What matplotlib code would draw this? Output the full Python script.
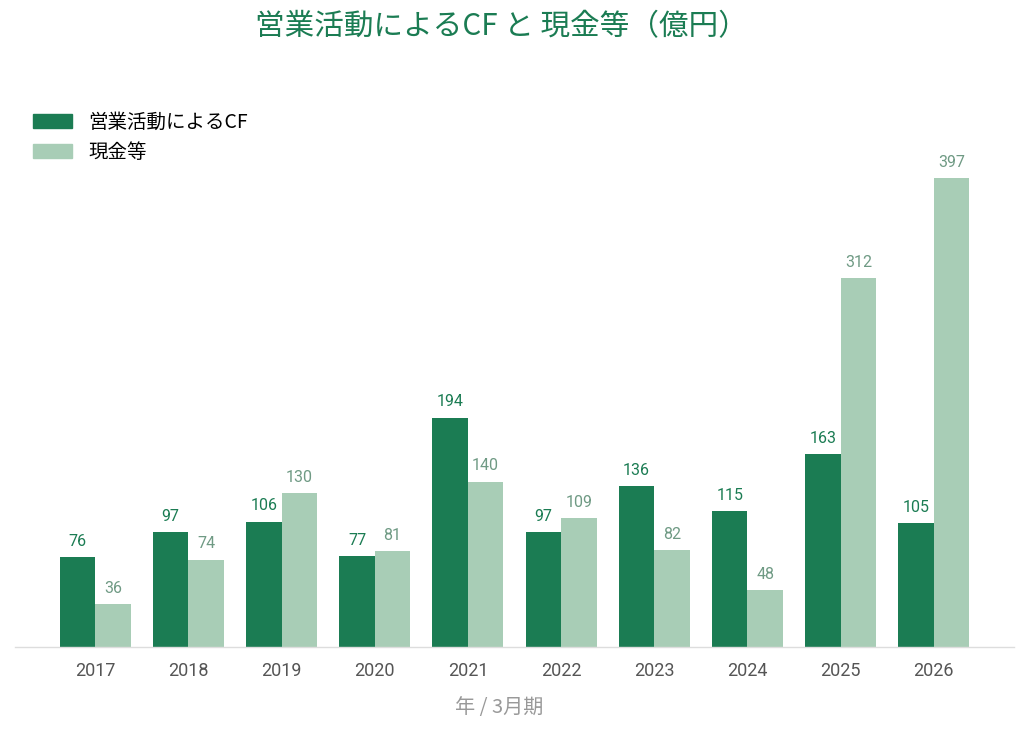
import matplotlib
matplotlib.use("Agg")
import matplotlib.pyplot as plt
import numpy as np
from matplotlib.patches import Patch

plt.rcParams['font.family'] = ['Noto Sans CJK JP', 'DejaVu Sans']
num_font = ['Roboto', 'Noto Sans CJK JP']

years = ['2017', '2018', '2019', '2020', '2021', '2022', '2023', '2024', '2025', '2026']
cf_values = [76, 97, 106, 77, 194, 97, 136, 115, 163, 105]
cash_values = [36, 74, 130, 81, 140, 109, 82, 48, 312, 397]
series_names = ['営業活動によるCF', '現金等']
title = '営業活動によるCF と 現金等（億円）'
xlabel = '年 / 3月期'

dark = '#1b7c53'
light = '#a8cdb6'
dark_lbl = '#1b7c53'
light_lbl = '#6f9a84'

fig = plt.figure(figsize=(10.29, 7.34), dpi=100)
W, H = 1029, 734
ax = fig.add_axes([15 / W, (H - 647) / H, (1014 - 15) / W, (647 - 100) / H])

x = np.arange(len(years))
bw = 0.38
b1 = ax.bar(x - bw / 2, cf_values, bw, color=dark, label=series_names[0])
b2 = ax.bar(x + bw / 2, cash_values, bw, color=light, label=series_names[1])

for rect, v in zip(b1, cf_values):
    ax.annotate(str(v), (rect.get_x() + rect.get_width() / 2, v), xytext=(0, 6),
                textcoords='offset points', ha='center', va='bottom',
                fontsize=11.5, color=dark_lbl, family=num_font, clip_on=False)
for rect, v in zip(b2, cash_values):
    ax.annotate(str(v), (rect.get_x() + rect.get_width() / 2, v), xytext=(0, 6),
                textcoords='offset points', ha='center', va='bottom',
                fontsize=11.5, color=light_lbl, family=num_font, clip_on=False)

ax.set_xlim(-0.86, len(years) - 1 + 0.86)
ax.set_ylim(0, 397 + (178 - 100) / (469 / 397))
ax.set_xticks(x)
ax.set_xticklabels(years, fontsize=13, color='#555555', family=num_font)
ax.tick_params(axis='x', length=0, pad=11)
ax.set_yticks([])
for s in ['top', 'right', 'left']:
    ax.spines[s].set_visible(False)
ax.spines['bottom'].set_color('#dddddd')
ax.spines['bottom'].set_linewidth(1)

fig.text(501 / W, 1 - 27 / H, title, ha='center', va='center', fontsize=21.3, color=dark)
fig.text(499 / W, 1 - 708 / H, xlabel, ha='center', va='center', fontsize=14.5, color='#999999')

handles = [Patch(color=dark), Patch(color=light)]
fig.legend(handles, series_names, loc='upper left', bbox_to_anchor=(25 / W, 1 - 104 / H),
           frameon=False, fontsize=14, handlelength=2.0, handleheight=0.75,
           handletextpad=0.85, labelspacing=0.45, borderaxespad=0)

fig.savefig('out.png', dpi=100)
